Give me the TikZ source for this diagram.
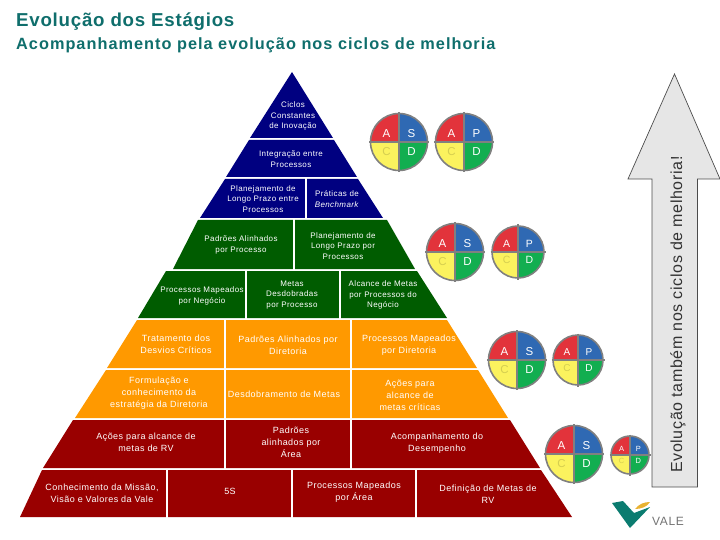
\documentclass[tikz,border=0pt]{standalone}
\usepackage{fontspec}
\setmainfont{Liberation Sans}
\newfontfamily\smallfont[LetterSpace=5]{Liberation Sans}
\newfontfamily\titlefont[LetterSpace=4]{Liberation Sans}
\newfontfamily\subtitlefont[LetterSpace=6.2]{Liberation Sans}
\newfontfamily\sidefont[LetterSpace=4]{Liberation Sans}
\definecolor{titleteal}{HTML}{0F6E6C}
\definecolor{navyband}{HTML}{000080}
\definecolor{greenband}{HTML}{005C00}
\definecolor{orangeband}{HTML}{FF9900}
\definecolor{redband}{HTML}{990000}
\definecolor{arrowfill}{HTML}{E6E6E6}
\definecolor{wheelred}{HTML}{E2333B}
\definecolor{wheelblue}{HTML}{2F69B3}
\definecolor{wheelyellow}{HTML}{FBF25E}
\definecolor{wheelgreen}{HTML}{12AE50}
\definecolor{valegreen}{HTML}{0B7C70}
\definecolor{valegold}{HTML}{E9B231}
\tikzset{
  smalltext/.style={text=white, align=center, inner sep=0pt, font=\smallfont\fontsize{8}{10.8}\selectfont},
  celltext/.style={text=white, align=center, inner sep=0pt, font=\smallfont\fontsize{9}{12}\selectfont},
  cut/.style={white, line width=2.4pt},
}
\newcommand{\pdcawheel}[5]{%
  \begin{scope}[shift={(#1,#2)}]
    \fill[wheelred] (0,0) -- (-#3,0) arc[start angle=180, end angle=270, radius=#3] -- cycle;
    \fill[wheelblue] (0,0) -- (0,-#3) arc[start angle=270, end angle=360, radius=#3] -- cycle;
    \fill[wheelgreen] (0,0) -- (#3,0) arc[start angle=0, end angle=90, radius=#3] -- cycle;
    \fill[wheelyellow] (0,0) -- (0,#3) arc[start angle=90, end angle=180, radius=#3] -- cycle;
    \draw[gray, line width=1.6pt] (0,0) circle[radius=#3];
    \draw[gray, line width=1.1pt] (-#3-1.5,0) -- (#3+1.5,0);
    \draw[gray, line width=1.1pt] (0,-#3-1.5) -- (0,#3+1.5);
    \node[text=white, inner sep=0pt, font=\fontsize{#5}{#5}\selectfont] at (-0.44*#3,-0.3*#3) {A};
    \node[text=white, inner sep=0pt, font=\fontsize{#5}{#5}\selectfont] at (0.44*#3,-0.3*#3) {#4};
    \node[text=black!15!wheelyellow, inner sep=0pt, font=\fontsize{#5}{#5}\selectfont] at (-0.44*#3,0.32*#3) {C};
    \node[text=white, inner sep=0pt, font=\fontsize{#5}{#5}\selectfont] at (0.44*#3,0.32*#3) {D};
  \end{scope}}

\begin{document}
\begin{tikzpicture}[x=1pt,y=-1pt]
  \useasboundingbox (0,0) rectangle (720,540);

  \node[anchor=west, inner sep=0pt, font=\titlefont\bfseries\fontsize{18.7}{20}\selectfont, text=titleteal] (title) at (16,22) {Evolução dos Estágios};
  \node[anchor=west, inner sep=0pt, font=\subtitlefont\bfseries\fontsize{16.3}{17}\selectfont, text=titleteal] (subtitle) at (16,45) {Acompanhamento pela evolução nos ciclos de melhoria};

  % pyramid tiers, top to bottom
  \fill[navyband] (292,72) -- (333,138) -- (250,138) -- cycle;
  \fill[navyband] (249,140) -- (334,140) -- (357,177) -- (226,177) -- cycle;
  \fill[navyband] (225,179) -- (358,179) -- (383,218) -- (200,218) -- cycle;
  \fill[greenband] (198,220) -- (387,220) -- (415,269) -- (173,269) -- cycle;
  \fill[greenband] (166,271) -- (417,271) -- (447,318) -- (138,318) -- cycle;
  \fill[orangeband] (137,320) -- (447,320) -- (477,368) -- (107,368) -- cycle;
  \fill[orangeband] (106,370) -- (478,370) -- (508,418) -- (75,418) -- cycle;
  \fill[redband] (73,420) -- (510,420) -- (540,468) -- (43,468) -- cycle;
  \fill[redband] (42,470) -- (541,470) -- (572,517) -- (20,517) -- cycle;

  % cell dividers
  \draw[cut] (306,178) -- (306,219);
  \draw[cut] (294,219) -- (294,270);
  \draw[cut] (246,270) -- (246,319);
  \draw[cut] (340,270) -- (340,319);
  \draw[cut] (225,319) -- (225,469);
  \draw[cut] (351,319) -- (351,469);
  \draw[cut] (167,469) -- (167,518);
  \draw[cut] (292,469) -- (292,518);
  \draw[cut] (416,469) -- (416,518);

  \node[smalltext] (ciclos) at (293,116) {Ciclos\\Constantes\\de Inovação};
  \node[smalltext] (integracao) at (291,159) {Integração entre\\Processos};
  \node[smalltext] (longoentre) at (263,199) {Planejamento de\\Longo Prazo entre\\Processos};
  \node[smalltext] (praticas) at (337,199) {Práticas de\\\textit{Benchmark}};
  \node[smalltext] (alinhproc) at (241,245) {Padrões Alinhados\\por Processo};
  \node[smalltext] (longopor) at (343,246) {Planejamento de\\Longo Prazo por\\Processos};
  \node[smalltext] (mapneg) at (202,296) {Processos Mapeados\\por Negócio};
  \node[smalltext] (desdproc) at (292,295) {Metas\\Desdobradas\\por Processo};
  \node[smalltext] (alcance) at (383,295) {Alcance de Metas\\por Processos do\\Negócio};

  \node[celltext] (tratamento) at (176,344) {Tratamento dos\\Desvios Críticos};
  \node[celltext] (alinhdir) at (288,345) {Padrões Alinhados por\\Diretoria};
  \node[celltext] (mapdir) at (409,345) {Processos Mapeados\\por Diretoria};
  \node[celltext] (formulacao) at (159,393) {Formulação e\\conhecimento da\\estratégia da Diretoria};
  \node[celltext] (desdmetas) at (284,394) {Desdobramento de Metas};
  \node[celltext] (acoes) at (410,395) {Ações para\\alcance de\\metas críticas};
  \node[celltext] (acoesrv) at (146,442) {Ações para alcance de\\metas de RV};
  \node[celltext] (alinharea) at (291,442) {Padrões\\alinhados por\\Área};
  \node[celltext] (acomp) at (437,443) {Acompanhamento do\\Desempenho};
  \node[celltext] (missao) at (102,493) {Conhecimento da Missão,\\Visão e Valores da Vale};
  \node[celltext] (cincos) at (230,491) {5S};
  \node[celltext] (maparea) at (354,492) {Processos Mapeados\\por Área};
  \node[celltext] (defrv) at (488,494) {Definição de Metas de\\RV};

  % PDCA wheels
  \pdcawheel{399}{142}{28.5}{S}{11.5}
  \pdcawheel{464}{142}{28.5}{P}{11.5}
  \pdcawheel{455}{252}{28.5}{S}{11.5}
  \pdcawheel{518}{252}{26}{P}{10.5}
  \pdcawheel{517}{360}{28.5}{S}{11.5}
  \pdcawheel{578}{360}{25}{P}{10}
  \pdcawheel{574}{454}{28.5}{S}{11.5}
  \pdcawheel{630}{455}{19}{P}{7.5}

  % side arrow
  \draw[fill=arrowfill, draw=black!70, line width=0.7pt] (674.5,74) -- (720,179) -- (697.5,179) -- (697.5,487) -- (652,487) -- (652,179) -- (628,179) -- cycle;
  \node[rotate=90, inner sep=0pt, text=black!80, font=\sidefont\fontsize{16}{17}\selectfont] (evolucao) at (678,314.5) {Evolução também nos ciclos de melhoria!};

  % logo
  \fill[valegreen] (612,503) -- (623,501) -- (634,513) -- (650,507) -- (630,528) -- cycle;
  \fill[valegold] (635,509) .. controls (639,504) and (644,502) .. (650,502) .. controls (647,507) and (641,509) .. (635,509) -- cycle;
  \node[anchor=west, inner sep=0pt, text=black!55, font=\smallfont\fontsize{12}{13}\selectfont] (vale) at (652,521) {VALE};
\end{tikzpicture}
\end{document}
